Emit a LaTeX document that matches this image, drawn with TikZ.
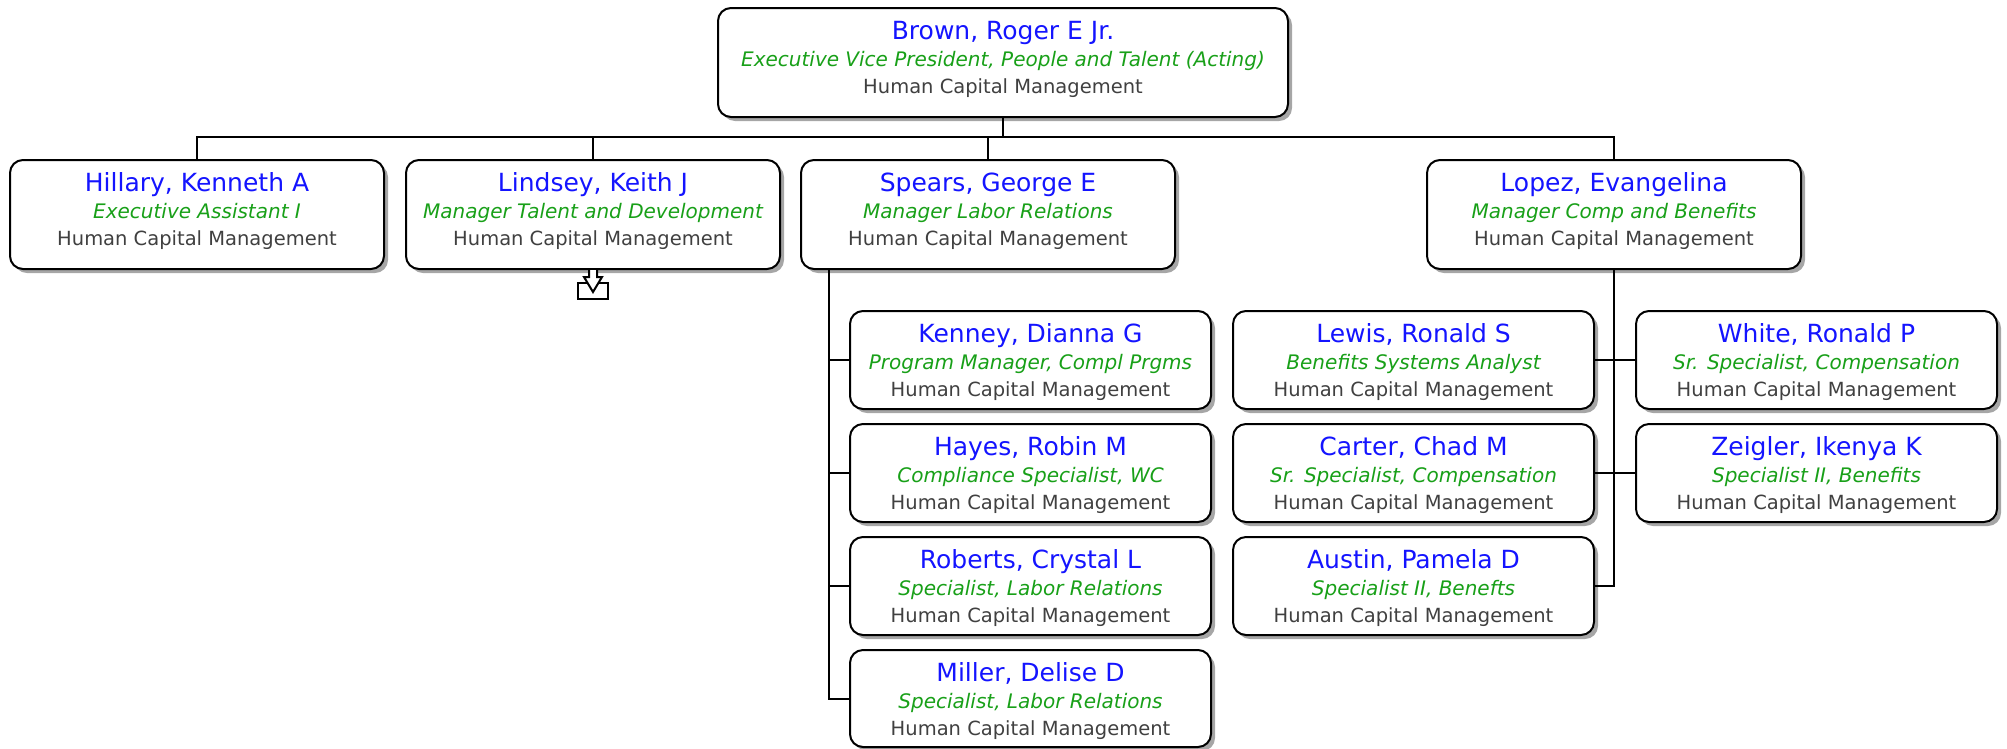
\documentclass[tikz,border=0pt]{standalone}
\usepackage{fontspec}
\setmainfont{DejaVu Sans}
\usetikzlibrary{shadows}
\definecolor{nameblue}{HTML}{1414FF}
\definecolor{titlegreen}{HTML}{18A018}
\definecolor{deptgray}{HTML}{404040}
\tikzset{
  box/.style={draw=black, line width=2pt, rounded corners=13pt, fill=white,
    inner sep=0pt, outer sep=0pt,
    drop shadow={shadow xshift=4pt, shadow yshift=-4pt, fill=black!35, opacity=1}},
  nametext/.style={text=nameblue, font=\fontsize{25}{28}\selectfont, inner sep=0pt, anchor=base},
  titletext/.style={text=titlegreen, font=\fontsize{20}{24}\selectfont\itshape, inner sep=0pt, anchor=base},
  depttext/.style={text=deptgray, font=\fontsize{19.5}{24}\selectfont, inner sep=0pt, anchor=base},
  link/.style={draw=black, line width=2pt},
}
\newcommand\orgbox[7]{%
  \node[box, minimum width=#4pt, minimum height=#5pt, anchor=north west] (#1) at (#2,#3) {};
  \node[nametext] (#1n) at ([yshift=-31.5pt]#1.north) {#6};
  \node[titletext] (#1t) at ([yshift=-58pt]#1.north) {#7};
  \node[depttext] (#1d) at ([yshift=-85pt]#1.north) {Human Capital Management};
}
\begin{document}
\begin{tikzpicture}[x=1pt, y=-1pt]
\useasboundingbox (0,0) rectangle (2007,748);
% top
\orgbox{brown}{718}{8}{570}{109}{Brown, Roger E Jr.}{Executive Vice President, People and Talent (Acting)}
% level 1
\orgbox{hillary}{10}{160}{374}{109}{Hillary, Kenneth A}{Executive Assistant I}
\orgbox{lindsey}{406}{160}{374}{109}{Lindsey, Keith J}{Manager Talent and Development}
\orgbox{spears}{801}{160}{374}{109}{Spears, George E}{Manager Labor Relations}
\orgbox{lopez}{1427}{160}{374}{109}{Lopez, Evangelina}{Manager Comp and Benefits}
% Spears children
\orgbox{kenney}{850}{311}{361}{98}{Kenney, Dianna G}{Program Manager, Compl Prgms}
\orgbox{hayes}{850}{424}{361}{98}{Hayes, Robin M}{Compliance Specialist, WC}
\orgbox{roberts}{850}{537}{361}{98}{Roberts, Crystal L}{Specialist, Labor Relations}
\orgbox{miller}{850}{650}{361}{97}{Miller, Delise D}{Specialist, Labor Relations}
% Lopez children
\orgbox{lewis}{1233}{311}{361}{98}{Lewis, Ronald S}{Benefits Systems Analyst}
\orgbox{carter}{1233}{424}{361}{98}{Carter, Chad M}{Sr. Specialist, Compensation}
\orgbox{austin}{1233}{537}{361}{98}{Austin, Pamela D}{Specialist II, Benefts}
\orgbox{white}{1636}{311}{361}{98}{White, Ronald P}{Sr. Specialist, Compensation}
\orgbox{zeigler}{1636}{424}{361}{98}{Zeigler, Ikenya K}{Specialist II, Benefits}
% connectors level 1
\coordinate (bus) at (0,137);
\draw[link] (brown.south) -- (brown.south |- bus);
\draw[link] (hillary.north) |- (lopez.north |- bus) -- (lopez.north);
\draw[link] (lindsey.north) -- (lindsey.north |- bus);
\draw[link] (spears.north) -- (spears.north |- bus);
% Spears children
\coordinate (sp) at ([xshift=28pt]spears.south west);
\draw[link] (sp) |- (miller.west);
\draw[link] (sp |- kenney.west) -- (kenney.west);
\draw[link] (sp |- hayes.west) -- (hayes.west);
\draw[link] (sp |- roberts.west) -- (roberts.west);
% Lopez children
\draw[link] (lopez.south) |- (austin.east);
\draw[link] (lewis.east) -- (white.west);
\draw[link] (carter.east) -- (zeigler.west);
% collapsed indicator under Lindsey
\begin{scope}[shift={(lindsey.south)}, line width=2pt]
  \draw[fill=white] (-15,14) rectangle (15,30);
  \draw[fill=white, line join=miter] (-4,1) -- (-4,8) -- (-9,8) -- (0,23) -- (9,8) -- (4,8) -- (4,1);
\end{scope}
\end{tikzpicture}
\end{document}
